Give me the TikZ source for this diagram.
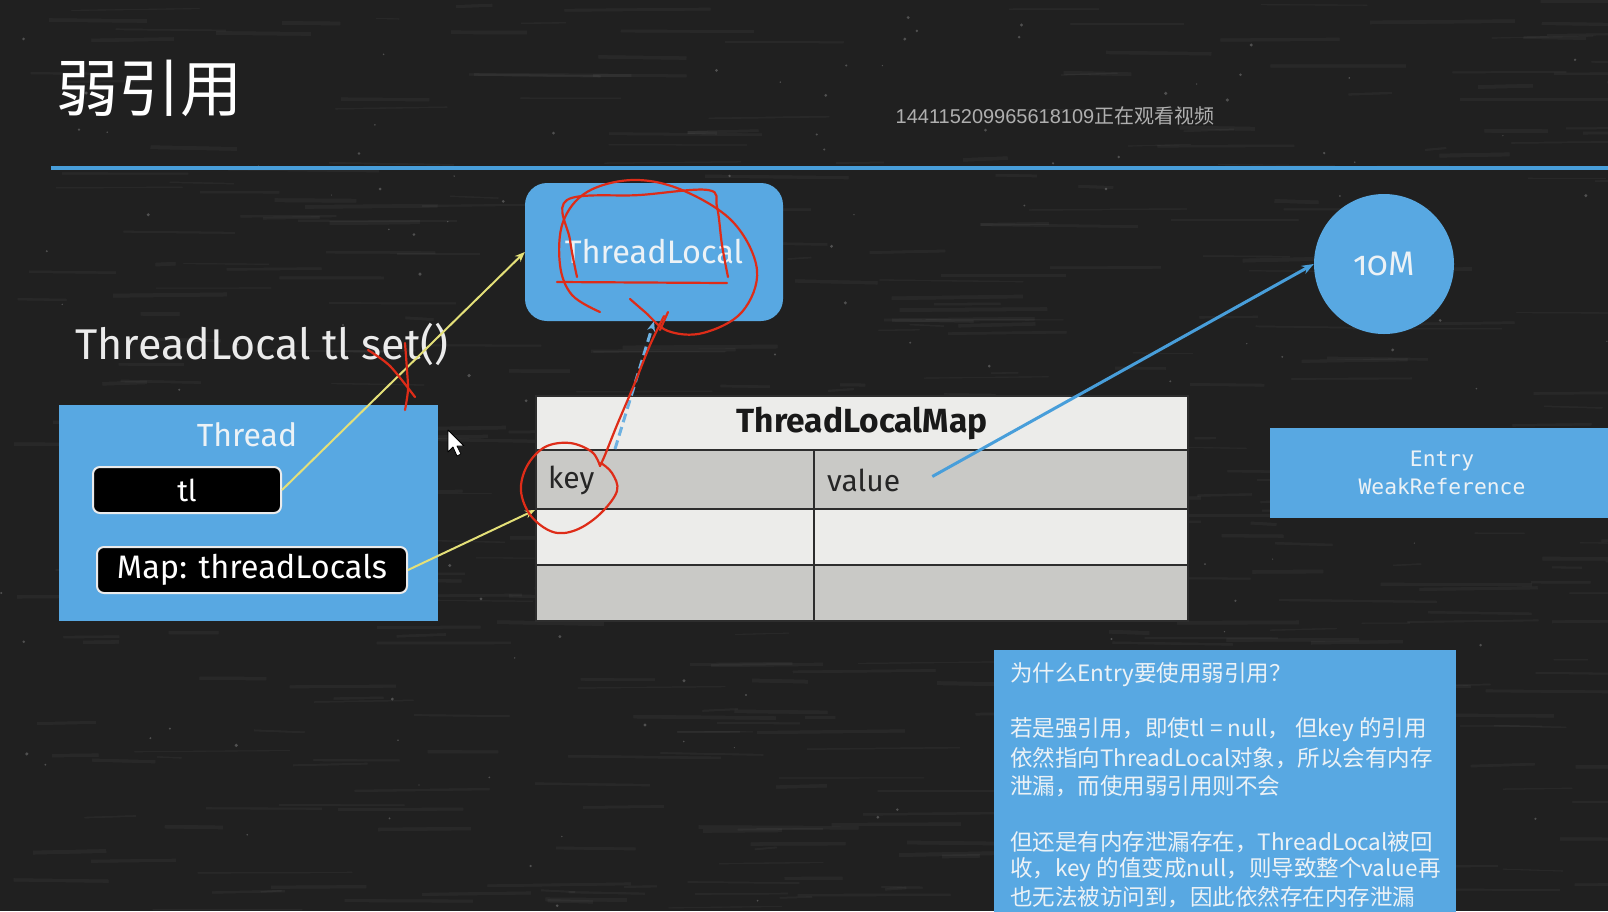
\documentclass[tikz,border=0pt]{standalone}
\usepackage{fontspec}
\setmainfont{Fira Sans}
\newfontfamily\cjkfont{Noto Sans CJK SC}
\newfontfamily\codefont{DejaVu Sans Mono}
\newfontfamily\markfont{Liberation Sans}
\usetikzlibrary{arrows.meta,calc}

\definecolor{board}{RGB}{32,32,32}
\definecolor{slideblue}{RGB}{88,168,226}
\definecolor{rulerblue}{RGB}{72,158,218}
\definecolor{inkred}{RGB}{222,44,24}
\definecolor{linkyellow}{RGB}{228,224,120}
\definecolor{cellpale}{RGB}{236,236,234}
\definecolor{celldark}{RGB}{201,201,198}
\definecolor{gridline}{RGB}{45,45,45}
\definecolor{softwhite}{RGB}{236,242,246}
\definecolor{markgray}{RGB}{175,175,175}

\tikzset{
  bluebox/.style={fill=slideblue, draw=none, text=softwhite, inner sep=0},
  fieldbox/.style={fill=black, draw=white!92!black, line width=2, rounded corners=7,
    text=white, inner sep=0, font=\fontsize{30}{30}\selectfont},
  cell/.style={draw=gridline, line width=2, anchor=north west, inner sep=0},
  celltext/.style={text=black!85, font=\fontsize{30}{30}\selectfont, anchor=west, inner sep=0},
  yellowlink/.style={draw=linkyellow, line width=2, -{Stealth[length=10,width=8]}},
  bluelink/.style={draw=rulerblue, line width=3, -{Stealth[length=12,width=9]}},
  scribble/.style={draw=inkred, line width=2.2, line cap=round, line join=round},
  notetext/.style={text=softwhite, anchor=west, inner sep=0, font=\cjkfont\fontsize{22.5}{22.5}\selectfont},
}

\begin{document}
\begin{tikzpicture}[x=1pt,y=-1pt]
\useasboundingbox (0,0) rectangle (1608,911);

% chalkboard background with faint streaks and specks
\fill[board] (0,0) rectangle (1608,911);
\pgfmathsetseed{1608}
\foreach \k in {1,...,420}{
  \pgfmathsetmacro\px{rnd*1608}
  \pgfmathsetmacro\py{rnd*911}
  \pgfmathsetmacro\pl{20+rnd*140}
  \pgfmathsetmacro\pw{1+rnd*3}
  \draw[white, opacity=0.04, line width=\pw] (\px,\py) -- ++(\pl,rnd*4-2);
}
\foreach \k in {1,...,160}{
  \pgfmathsetmacro\px{rnd*1608}
  \pgfmathsetmacro\py{rnd*911}
  \pgfmathsetmacro\pr{0.6+rnd*1.2}
  \fill[white, opacity=0.22] (\px,\py) circle[radius=\pr];
}

% heading and rule
\node[text=white, inner sep=0, font=\cjkfont\fontsize{62}{62}\selectfont] (title) at (149,88) {弱引用};
\node[text=markgray, inner sep=0, font=\fontsize{20}{20}\selectfont] (mark) at (1055,116)
  {\markfont 144115209965618109\cjkfont 正在观看视频};
\draw[rulerblue, line width=4] (51,168) -- (1608,168);

% objects
\node[bluebox, rounded corners=22, minimum width=258, minimum height=138,
  font=\fontsize{32.5}{32.5}\selectfont] (tlobj) at (654,252) {ThreadLocal};

\node[text=white!92!black, inner sep=0, font=\fontsize{43}{43}\selectfont] (call) at (262,344)
  {ThreadLocal tl set()};

\node[bluebox, minimum width=379, minimum height=216] (thread) at (248.5,513) {};
\node[text=softwhite, inner sep=0, font=\fontsize{32}{32}\selectfont] (threadlbl) at (247,435) {Thread};
\node[fieldbox, minimum width=188, minimum height=46] (tlbox) at (187,490) {tl};
\node[fieldbox, minimum width=310, minimum height=46, font=\fontsize{32.5}{32.5}\selectfont]
  (mapbox) at (252,570) {Map: threadLocals};

% ThreadLocalMap table
\node[cell, fill=cellpale, minimum width=652, minimum height=54,
  font=\bfseries\fontsize{33.5}{33.5}\selectfont, text=black!90] (hdr) at (535,395) {ThreadLocalMap};
\node[cell, fill=celldark, minimum width=278, minimum height=59] (k1) at (535,449) {};
\node[cell, fill=celldark, minimum width=374, minimum height=59] (v1) at (813,449) {};
\node[cell, fill=cellpale, minimum width=278, minimum height=56] (k2) at (535,508) {};
\node[cell, fill=cellpale, minimum width=374, minimum height=56] (v2) at (813,508) {};
\node[cell, fill=celldark, minimum width=278, minimum height=56] (k3) at (535,564) {};
\node[cell, fill=celldark, minimum width=374, minimum height=56] (v3) at (813,564) {};
\node[celltext] (keytxt) at ($(k1.west)+(13,1)$) {key};
\node[celltext] (valtxt) at ($(v1.west)+(14,1)$) {value};

% value object and entry label
\node[bluebox, circle, minimum size=140, font=\fontsize{34}{34}\selectfont] (mem) at (1384,264)
  {\addfontfeatures{Numbers=OldStyle}10M};
\node[bluebox, minimum width=344, minimum height=90, align=center,
  font=\codefont\fontsize{21.3}{28}\selectfont] (entry) at (1442,473) {Entry\\WeakReference};

% explanation panel
\node[bluebox, minimum width=462, minimum height=290, anchor=north west] (note) at (994,650) {};
\node[notetext] (n1) at (1010,675) {为什么Entry要使用弱引用？};
\node[notetext] (n2) at (1010,730) {若是强引用，即使tl = null， 但key 的引用};
\node[notetext] (n3) at (1010,758) {依然指向ThreadLocal对象，所以会有内存};
\node[notetext] (n4) at (1010,786) {泄漏，而使用弱引用则不会};
\node[notetext] (n5) at (1010,842) {但还是有内存泄漏存在，ThreadLocal被回};
\node[notetext] (n6) at (1010,870) {收，key 的值变成null，则导致整个value再};
\node[notetext] (n7) at (1010,897) {也无法被访问到，因此依然存在内存泄漏};

% references
\draw[yellowlink] (tlbox.east) -- (tlobj.west);
\draw[yellowlink] (mapbox.east) -- (k1.south west);
\draw[rulerblue!80!white, line width=3, dashed, dash pattern=on 9pt off 5pt, -{Stealth[length=10,width=8]}]
  ($(k1.north west)+(80,0)$) -- (tlobj.south);
\draw[bluelink] ($(valtxt.east)+(32,-4)$) -- (mem.west);

% red pen marks
\draw[scribble] plot[smooth, tension=0.6] coordinates
  {(577,277) (570,240) (567,200) (640,195) (708,190) (717,207) (722,245) (728,277)};
\draw[scribble] (557,282) -- (727,283);
\draw[scribble] plot[smooth, tension=0.6] coordinates
  {(600,312) (572,295) (560,265) (563,222) (587,192) (633,180) (682,190) (733,222)
   (757,270) (742,312) (703,333) (668,331) (645,312) (630,299)};
\draw[scribble] plot[smooth, tension=0.5] coordinates
  {(664,316) (650,345) (634,385) (617,425) (605,455) (600,466)};
\draw[scribble] plot[smooth, tension=0.6] coordinates
  {(600,466) (592,452) (570,443) (545,447) (527,466) (521,491) (531,516) (553,532)
   (576,530) (600,514) (617,491) (612,473) (601,463)};
\draw[scribble] (660,330) -- (668,312);
\draw[scribble] plot[smooth] coordinates {(368,350) (390,366) (415,397)};
\draw[scribble] plot[smooth] coordinates {(405,343) (407,370) (408,390) (405,410)};

% pointer
\draw[fill=white, draw=black, line width=0.8, line join=round]
  (448,430) -- (448,452) -- (453,447) -- (457,456) -- (461,454) -- (457,446) -- (464,446) -- cycle;
\end{tikzpicture}
\end{document}
